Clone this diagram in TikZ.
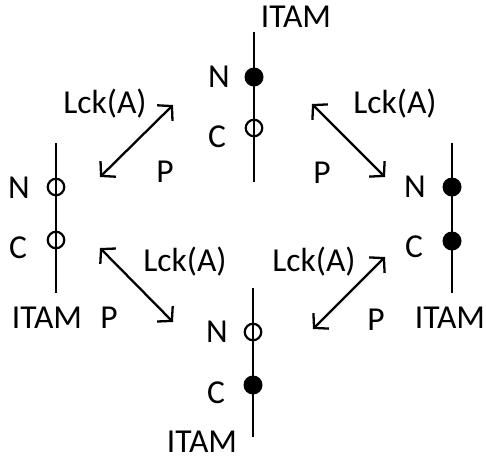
\documentclass[tikz,border=0pt]{standalone}
\usepackage{fontspec}
\setmainfont{Carlito}
\usetikzlibrary{arrows.meta}
\begin{document}
\begin{tikzpicture}[x=1pt,y=-1pt,
  lbl/.style={inner sep=0pt,anchor=base,font=\fontsize{33.5}{40}\selectfont},
  axis/.style={line width=2.6pt},
  fdot/.style={circle,fill=black,minimum size=19pt,inner sep=0pt},
  odot/.style={circle,draw=black,line width=2.2pt,minimum size=16.5pt,inner sep=0pt},
  dbl/.style={line width=2.3pt,{Straight Barb[length=10pt,width=22pt,line width=2.3pt]}-{Straight Barb[length=10pt,width=22pt,line width=2.3pt]}}]
\useasboundingbox (0,0) rectangle (486,456);
% top group
\coordinate (t1) at (254,32); \coordinate (t2) at (254,182);
\draw[axis] (t1) -- (t2);
\node[fdot] (tN) at (254,77) {};
\node[odot] (tC) at (254,128) {};
\node[lbl] (tNl) at (219,87) {N};
\node[lbl] (tCl) at (217,147) {C};
\node[lbl] (tI) at (296,27) {ITAM};
% left group
\coordinate (l1) at (56,143); \coordinate (l2) at (56,293);
\draw[axis] (l1) -- (l2);
\node[odot] (lN) at (56,187) {};
\node[odot] (lC) at (56,240) {};
\node[lbl] (lNl) at (19,198) {N};
\node[lbl] (lCl) at (18,258) {C};
\node[lbl] (lI) at (47,328) {ITAM};
% right group
\coordinate (r1) at (452,143); \coordinate (r2) at (452,293);
\draw[axis] (r1) -- (r2);
\node[fdot] (rN) at (452,187) {};
\node[fdot] (rC) at (452,241) {};
\node[lbl] (rNl) at (415,197) {N};
\node[lbl] (rCl) at (414,257) {C};
\node[lbl] (rI) at (450,328) {ITAM};
% bottom group
\coordinate (b1) at (253,288); \coordinate (b2) at (253,437);
\draw[axis] (b1) -- (b2);
\node[odot] (bN) at (253,332) {};
\node[fdot] (bC) at (253,385) {};
\node[lbl] (bNl) at (217,342) {N};
\node[lbl] (bCl) at (216,403) {C};
\node[lbl] (bI) at (202,452) {ITAM};
% arrows
\coordinate (a1s) at (100,177); \coordinate (a1e) at (173,105);
\coordinate (a2s) at (312,104); \coordinate (a2e) at (385,177);
\coordinate (a3s) at (100,248); \coordinate (a3e) at (173,322);
\coordinate (a4s) at (385,257); \coordinate (a4e) at (313,329);
\draw[dbl] (a1s) -- (a1e);
\draw[dbl] (a2s) -- (a2e);
\draw[dbl] (a3s) -- (a3e);
\draw[dbl] (a4s) -- (a4e);
% labels
\node[lbl] (L1) at (105,113) {Lck(A)};
\node[lbl] (L2) at (395,113) {Lck(A)};
\node[lbl] (L3) at (185,271) {Lck(A)};
\node[lbl] (L4) at (314,271) {Lck(A)};
\node[lbl] (P1) at (165,182) {P};
\node[lbl] (P2) at (322,183) {P};
\node[lbl] (P3) at (109,328) {P};
\node[lbl] (P4) at (376,330) {P};
\end{tikzpicture}
\end{document}
